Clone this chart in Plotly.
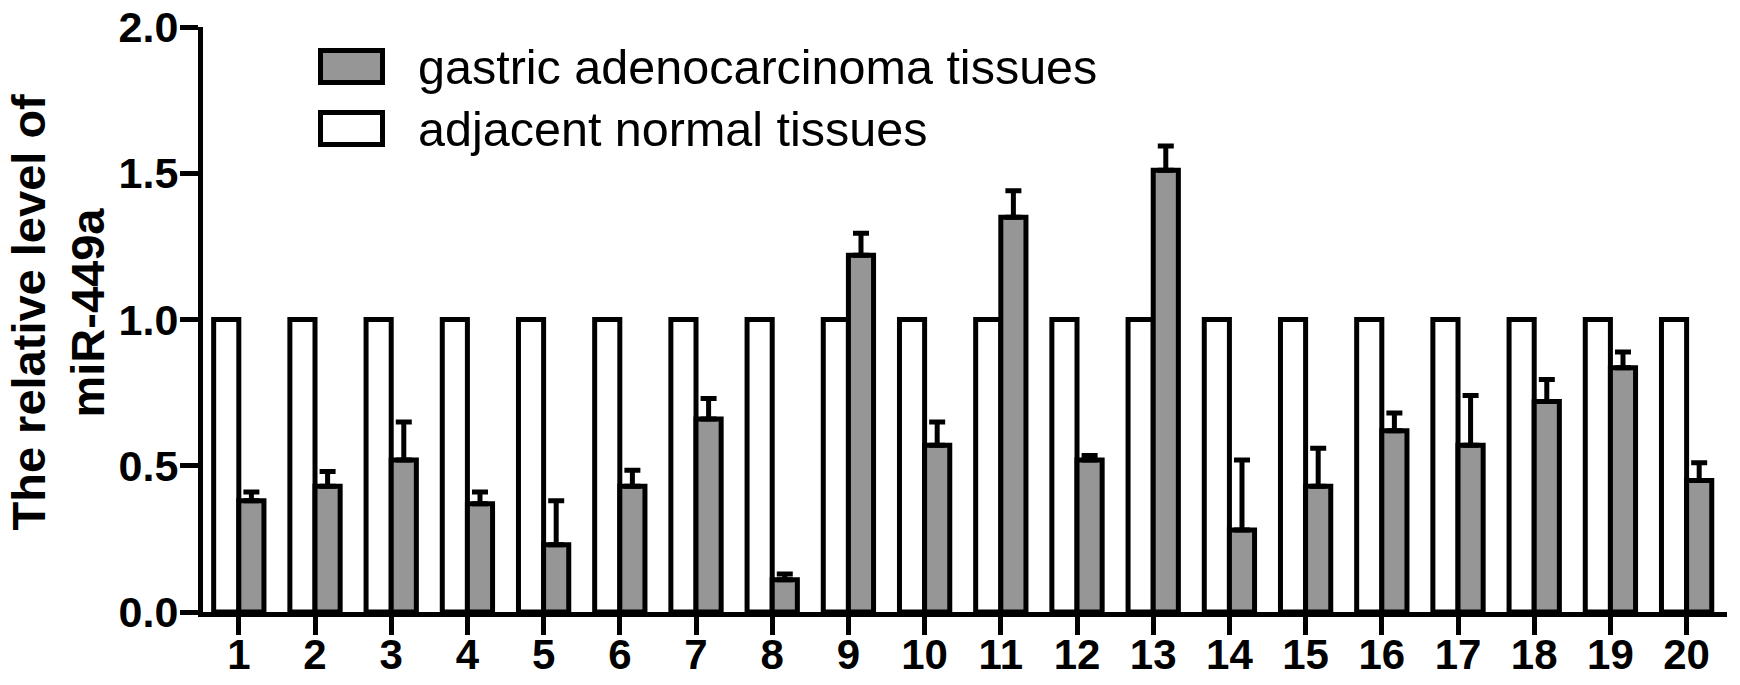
import plotly.graph_objects as go

samples = list(range(1, 21))
tick_labels = [str(i) for i in samples]
normal_values = [1.0] * 20
tumor_values = [0.38, 0.43, 0.52, 0.37, 0.23, 0.43, 0.66, 0.11, 1.22, 0.57,
                1.35, 0.52, 1.51, 0.28, 0.43, 0.62, 0.57, 0.72, 0.835, 0.45]
tumor_errors = [0.03, 0.05, 0.13, 0.04, 0.15, 0.055, 0.07, 0.02, 0.075, 0.08,
                0.09, 0.015, 0.083, 0.24, 0.13, 0.06, 0.17, 0.075, 0.054, 0.06]
series_names = ["gastric adenocarcinoma tissues", "adjacent normal tissues"]
y_title_lines = ["The relative level of", "miR-449a"]
y_ticks = [0.0, 0.5, 1.0, 1.5, 2.0]
y_tick_labels = ["0.0", "0.5", "1.0", "1.5", "2.0"]

W, H = 1740, 685
L, R, T, B = 203, 1727, 27, 612
FONT = "Arial, Liberation Sans, sans-serif"
GRAY = "#969696"

fig = go.Figure()
fig.add_trace(go.Bar(
    x=samples, y=normal_values, name=series_names[1],
    marker=dict(color="white", line=dict(color="black", width=5)),
    showlegend=False,
))
fig.add_trace(go.Bar(
    x=samples, y=tumor_values, name=series_names[0],
    marker=dict(color=GRAY, line=dict(color="black", width=5)),
    error_y=dict(type="data", symmetric=False, array=tumor_errors,
                 arrayminus=[0] * len(tumor_errors),
                 color="black", thickness=5, width=8),
    showlegend=False,
))

def px2paper_x(px):
    return (px - L) / (R - L)

def px2paper_y(py):
    return (B - py) / (B - T)

# manual legend (large boxes as in the original)
legend_rows = [(series_names[0], GRAY, 66.5), (series_names[1], "white", 128.5)]
for name, fill, cy in legend_rows:
    fig.add_shape(type="rect", xref="paper", yref="paper",
                  x0=px2paper_x(320.5), x1=px2paper_x(382.5),
                  y0=px2paper_y(cy - 16), y1=px2paper_y(cy + 16),
                  fillcolor=fill, line=dict(color="black", width=5), layer="above")
    fig.add_annotation(xref="paper", yref="paper", x=px2paper_x(416), y=px2paper_y(cy),
                       xanchor="left", yanchor="middle", showarrow=False, text=name,
                       font=dict(family=FONT, size=48.5, color="black"))

# y-axis title as two rotated lines
for line, cx in zip(y_title_lines, [28, 87]):
    fig.add_annotation(xref="paper", yref="paper", x=px2paper_x(cx), y=px2paper_y(312.5),
                       xanchor="center", yanchor="middle", showarrow=False, text=line,
                       textangle=-90,
                       font=dict(family=FONT, size=47, color="black", weight="bold"))

fig.update_layout(
    width=W, height=H,
    margin=dict(l=L, r=W - R, t=T, b=H - B, pad=0, autoexpand=False),
    paper_bgcolor="white", plot_bgcolor="white",
    barmode="group", bargap=0.34, bargroupgap=0,
    showlegend=False,
    font=dict(family=FONT, color="black"),
)
fig.update_xaxes(
    range=[0.53, 20.53], tickmode="array", tickvals=samples, ticktext=tick_labels,
    showline=True, linecolor="black", linewidth=5, showgrid=False, zeroline=False,
    ticks="outside", ticklen=18, tickwidth=5, tickcolor="black", automargin=False,
    ticklabelstandoff=-16,
    tickfont=dict(family=FONT, size=42, color="black", weight="bold"),
)
fig.update_yaxes(
    range=[0, 2.0], tickmode="array", tickvals=y_ticks, ticktext=y_tick_labels,
    showline=True, linecolor="black", linewidth=5, showgrid=False, zeroline=False,
    ticks="outside", ticklen=18, tickwidth=5, tickcolor="black", automargin=False,
    ticklabelstandoff=-7,
    tickfont=dict(family=FONT, size=43, color="black", weight="bold"),
)

fig.write_html(
    "out.html",
    config={"displayModeBar": False},
    post_script="document.body.style.margin='0';document.body.style.overflow='hidden';",
)
